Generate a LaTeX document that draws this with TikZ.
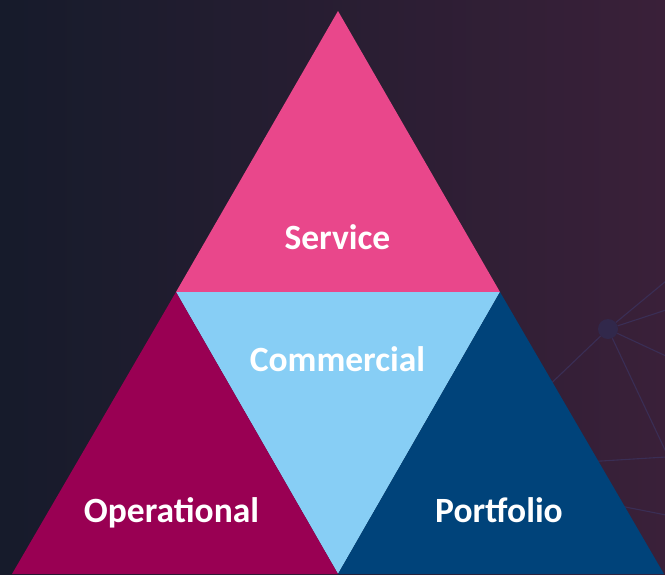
\documentclass[tikz,border=0pt]{standalone}
\usepackage{fontspec}
\setmainfont{Carlito}
\usepackage{xcolor}
\definecolor{bg-left}{HTML}{161B2B}
\definecolor{bg-mid}{HTML}{221A2F}
\definecolor{bg-right}{HTML}{3A2039}
\definecolor{service-pink}{HTML}{E9478B}
\definecolor{commercial-blue}{HTML}{87CEF5}
\definecolor{operational-plum}{HTML}{990053}
\definecolor{portfolio-navy}{HTML}{00437A}
\definecolor{net-grey}{HTML}{3A2E55}
\definecolor{net-dot}{HTML}{31284B}
\tikzset{
    section-label/.style = {text=white, font=\fontsize{35.5}{40}\selectfont\bfseries, inner sep=0pt, anchor=base},
    net-link/.style = {draw=net-grey, line width=1.1pt},
    net-hub/.style = {circle, fill=net-dot, inner sep=0pt, minimum size=20pt},
}

\begin{document}
\begin{tikzpicture}[x=1pt,y=-1pt]
\useasboundingbox (0,0) rectangle (665,574);
\shade[left color=bg-left, middle color=bg-mid, right color=bg-right] (0,0) rectangle (665,574);

% faint network in the background
\node[net-hub] (hub) at (608,329) {};
\coordinate (n1) at (666,281);
\coordinate (n2) at (666,310);
\coordinate (n3) at (666,356);
\coordinate (n4) at (540,394);
\coordinate (n5) at (666,452);
\coordinate (n6) at (585,462);
\coordinate (n7) at (666,457);
\coordinate (n8) at (600,502);
\coordinate (n9) at (666,515);
\foreach \n in {n1,n2,n3,n4,n5}
    \draw[net-link] (hub) -- (\n);
\draw[net-link] (n6) -- (n7);
\draw[net-link] (n8) -- (n9);

% the pyramid
\coordinate (apex) at (338,11);
\coordinate (midL) at (176,292);
\coordinate (midR) at (500,292);
\coordinate (botL) at (12,574);
\coordinate (botM) at (338,574);
\coordinate (botR) at (664,574);
\fill[service-pink] (apex) -- (midL) -- (midR) -- cycle;
\fill[commercial-blue] (midL) -- (midR) -- (botM) -- cycle;
\fill[operational-plum] (midL) -- (botM) -- (botL) -- cycle;
\fill[portfolio-navy] (midR) -- (botR) -- (botM) -- cycle;

\node[section-label] (service) at (337.5,249) {Service};
\node[section-label] (commercial) at (337.5,371) {Commercial};
\node[section-label] (operational) at (171.5,522) {Operational};
\node[section-label] (portfolio) at (499,522) {Portfolio};
\end{tikzpicture}
\end{document}
